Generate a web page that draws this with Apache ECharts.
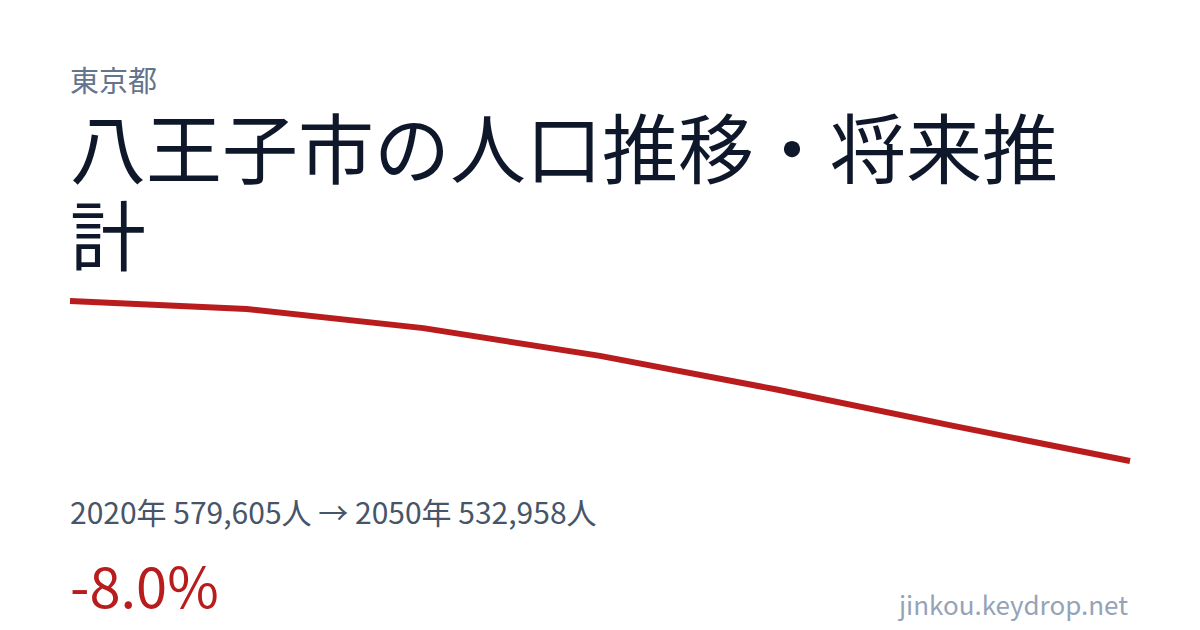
<!DOCTYPE html>
<html>
<head>
<meta charset="utf-8">
<style>
  html, body { margin: 0; padding: 0; background: #ffffff; }
  #container { width: 1200px; height: 630px; }
</style>
<script src="https://cdn.jsdelivr.net/npm/echarts@6/dist/echarts.min.js"></script>
</head>
<body>
<div id="container"></div>

<script type="text/javascript">
    // 年次と人口（2025年以降は推計）
    var years = ['2020', '2025', '2030', '2035', '2040', '2045', '2050'];
    var population = [579605, 577300, 571700, 563600, 553800, 543200, 532958];

    var prefName = '東京都';
    var titleText = '八王子市の人口推移・将来推計';
    var summaryText = '2020年 579,605人 → 2050年 532,958人';
    var changeText = '-8.0%';
    var siteText = 'jinkou.keydrop.net';

    var font = '"Noto Sans CJK JP", "Noto Sans", sans-serif';

    var dom = document.getElementById('container');
    var myChart = echarts.init(dom, null, { renderer: 'svg' });

    var option = {
        backgroundColor: '#ffffff',
        animation: false,
        grid: { left: 70, right: 70, top: 301, bottom: 169 },
        xAxis: {
            type: 'category',
            data: years,
            boundaryGap: false,
            show: false
        },
        yAxis: {
            type: 'value',
            min: function (v) { return v.min; },
            max: function (v) { return v.max; },
            show: false
        },
        series: [{
            type: 'line',
            data: population,
            symbol: 'none',
            lineStyle: { color: '#b91c1c', width: 6, cap: 'butt', join: 'miter' }
        }],
        graphic: [
            {
                type: 'text', left: 70, top: 64,
                style: { text: prefName, fill: '#64748b', font: '29px ' + font, lineHeight: 30 }
            },
            {
                type: 'text', left: 70, top: 101,
                style: {
                    text: titleText, fill: '#0f172a', font: '76px ' + font,
                    width: 1000, overflow: 'breakAll', lineHeight: 87
                }
            },
            {
                type: 'text', left: 70, top: 495,
                style: { text: summaryText, fill: '#475569', font: '30px ' + font, lineHeight: 32 }
            },
            {
                type: 'text', left: 70, top: 553,
                style: { text: changeText, fill: '#b91c1c', font: '56px ' + font, lineHeight: 60 }
            },
            {
                type: 'text', right: 72, top: 589,
                style: { text: siteText, fill: '#94a3b8', font: '26px ' + font, lineHeight: 28 }
            }
        ]
    };

    if (option && typeof option === 'object') {
        myChart.setOption(option);
    }
</script>
</body>
</html>
